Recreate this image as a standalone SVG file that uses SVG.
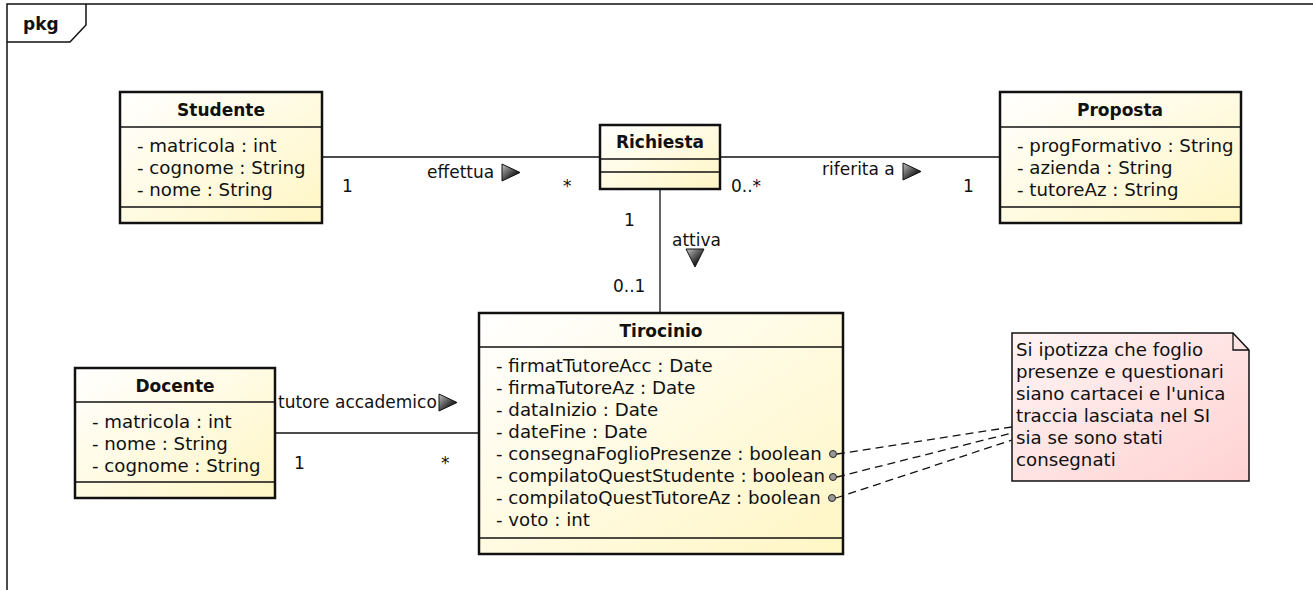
<svg xmlns="http://www.w3.org/2000/svg" width="1313" height="590" viewBox="0 0 1313 590">
  <defs>
    <linearGradient id="classFill" x1="0" y1="0" x2="1" y2="1">
      <stop offset="0" stop-color="#ffffff"/>
      <stop offset="1" stop-color="#fff6c4"/>
    </linearGradient>
    <linearGradient id="noteFill" x1="0" y1="0" x2="1" y2="1">
      <stop offset="0" stop-color="#fff4f4"/>
      <stop offset="1" stop-color="#ffd2d2"/>
    </linearGradient>
    <linearGradient id="arrowFill" x1="0" y1="0" x2="1" y2="1">
      <stop offset="0" stop-color="#c4c4c4"/>
      <stop offset="0.75" stop-color="#111111"/>
    </linearGradient>
    <style>
      text { font-family: "DejaVu Sans", "Liberation Sans", sans-serif; font-size: 17px; fill: #111; }
      .title { font-weight: bold; text-anchor: middle; }
      .attr { font-size: 18.2px; }
      .box { fill: url(#classFill); stroke: #111; stroke-width: 2.5; }
      .sep { stroke: #111; stroke-width: 1.5; }
      .line { stroke: #111; stroke-width: 1.3; fill: none; }
      .dash { stroke: #111; stroke-width: 1.3; fill: none; stroke-dasharray: 8 5; }
      .dir { fill: url(#arrowFill); stroke: #111; stroke-width: 1; }
      .anchor { fill: #999; stroke: #222; stroke-width: 1; }
      .note { fill: url(#noteFill); stroke: #111; stroke-width: 1.5; }
      .frame { fill: none; stroke: #111; stroke-width: 1.5; }
    </style>
  </defs>

  <rect width="1313" height="590" fill="#ffffff"/>

  <!-- package frame -->
  <g id="frame">
    <path class="frame" d="M7,590 V4 H1313"/>
    <path class="frame" d="M7,42 H70 L86,25 V4"/>
    <text x="23" y="30" style="font-weight:bold">pkg</text>
  </g>

  <g id="Studente">
    <rect class="box" x="120" y="92" width="202" height="131"/>
    <line class="sep" x1="120" y1="127" x2="322" y2="127"/>
    <line class="sep" x1="120" y1="207" x2="322" y2="207"/>
    <text class="title" x="221" y="116">Studente</text>
    <text class="attr" x="137" y="152">- matricola : int</text>
    <text class="attr" x="137" y="174">- cognome : String</text>
    <text class="attr" x="137" y="196">- nome : String</text>
  </g>

  <g id="Richiesta">
    <rect class="box" x="600" y="125" width="120" height="64"/>
    <line class="sep" x1="600" y1="159" x2="720" y2="159"/>
    <line class="sep" x1="600" y1="172" x2="720" y2="172"/>
    <text class="title" x="660" y="148">Richiesta</text>
  </g>

  <g id="Proposta">
    <rect class="box" x="1000" y="92" width="241" height="131"/>
    <line class="sep" x1="1000" y1="127" x2="1241" y2="127"/>
    <line class="sep" x1="1000" y1="207" x2="1241" y2="207"/>
    <text class="title" x="1120" y="116">Proposta</text>
    <text class="attr" x="1017" y="152">- progFormativo : String</text>
    <text class="attr" x="1017" y="174">- azienda : String</text>
    <text class="attr" x="1017" y="196">- tutoreAz : String</text>
  </g>

  <g id="Tirocinio">
    <rect class="box" x="479" y="313" width="364" height="241"/>
    <line class="sep" x1="479" y1="347" x2="843" y2="347"/>
    <line class="sep" x1="479" y1="538" x2="843" y2="538"/>
    <text class="title" x="661" y="337">Tirocinio</text>
    <text class="attr" x="496" y="372">- firmatTutoreAcc : Date</text>
    <text class="attr" x="496" y="394">- firmaTutoreAz : Date</text>
    <text class="attr" x="496" y="416">- dataInizio : Date</text>
    <text class="attr" x="496" y="438">- dateFine : Date</text>
    <text class="attr" x="496" y="460">- consegnaFoglioPresenze : boolean</text>
    <text class="attr" x="496" y="482">- compilatoQuestStudente : boolean</text>
    <text class="attr" x="496" y="504">- compilatoQuestTutoreAz : boolean</text>
    <text class="attr" x="496" y="526">- voto : int</text>
  </g>

  <g id="Docente">
    <rect class="box" x="75" y="368" width="200" height="130"/>
    <line class="sep" x1="75" y1="402" x2="275" y2="402"/>
    <line class="sep" x1="75" y1="482" x2="275" y2="482"/>
    <text class="title" x="175" y="392">Docente</text>
    <text class="attr" x="92" y="428">- matricola : int</text>
    <text class="attr" x="92" y="450">- nome : String</text>
    <text class="attr" x="92" y="472">- cognome : String</text>
  </g>

  <g id="Nota">
    <path class="note" d="M1012,333 H1233 L1249,350 V481 H1012 Z"/>
    <path class="line" d="M1233,333 V350 H1249"/>
    <text class="attr" x="1016" y="356">Si ipotizza che foglio</text>
    <text class="attr" x="1016" y="378">presenze e questionari</text>
    <text class="attr" x="1016" y="400">siano cartacei e l'unica</text>
    <text class="attr" x="1016" y="422">traccia lasciata nel SI</text>
    <text class="attr" x="1016" y="444">sia se sono stati</text>
    <text class="attr" x="1016" y="466">consegnati</text>
  </g>

  <!-- associations and note anchors, drawn over the class boxes -->
  <g id="connectors">
    <line class="line" x1="322" y1="157" x2="600" y2="157"/>
    <line class="line" x1="720" y1="157" x2="1000" y2="157"/>
    <line class="line" x1="660" y1="189" x2="660" y2="313"/>
    <line class="line" x1="275" y1="433" x2="479" y2="433"/>

    <text x="342" y="192">1</text>
    <text x="427" y="178">effettua</text>
    <path class="dir" d="M502,164 L520,172.5 L502,181 Z"/>
    <text x="563" y="192">*</text>

    <text x="731" y="192">0..*</text>
    <text x="822" y="175">riferita a</text>
    <path class="dir" d="M903,163 L921,171.5 L903,180 Z"/>
    <text x="963" y="192">1</text>

    <text x="624" y="226">1</text>
    <text x="672" y="246">attiva</text>
    <path class="dir" d="M686,249 L704,249 L695,267 Z"/>
    <text x="613" y="292">0..1</text>

    <text x="278" y="408">tutore accademico</text>
    <path class="dir" d="M439,394 L457,402.5 L439,411 Z"/>
    <text x="294" y="469">1</text>
    <text x="441" y="469">*</text>

    <line class="dash" x1="837" y1="454" x2="1012" y2="427"/>
    <line class="dash" x1="837" y1="477" x2="1012" y2="433"/>
    <line class="dash" x1="836" y1="498" x2="1012" y2="440"/>
    <circle class="anchor" cx="833" cy="454" r="3.5"/>
    <circle class="anchor" cx="833" cy="477" r="3.5"/>
    <circle class="anchor" cx="832" cy="498" r="3.5"/>
  </g>
</svg>
